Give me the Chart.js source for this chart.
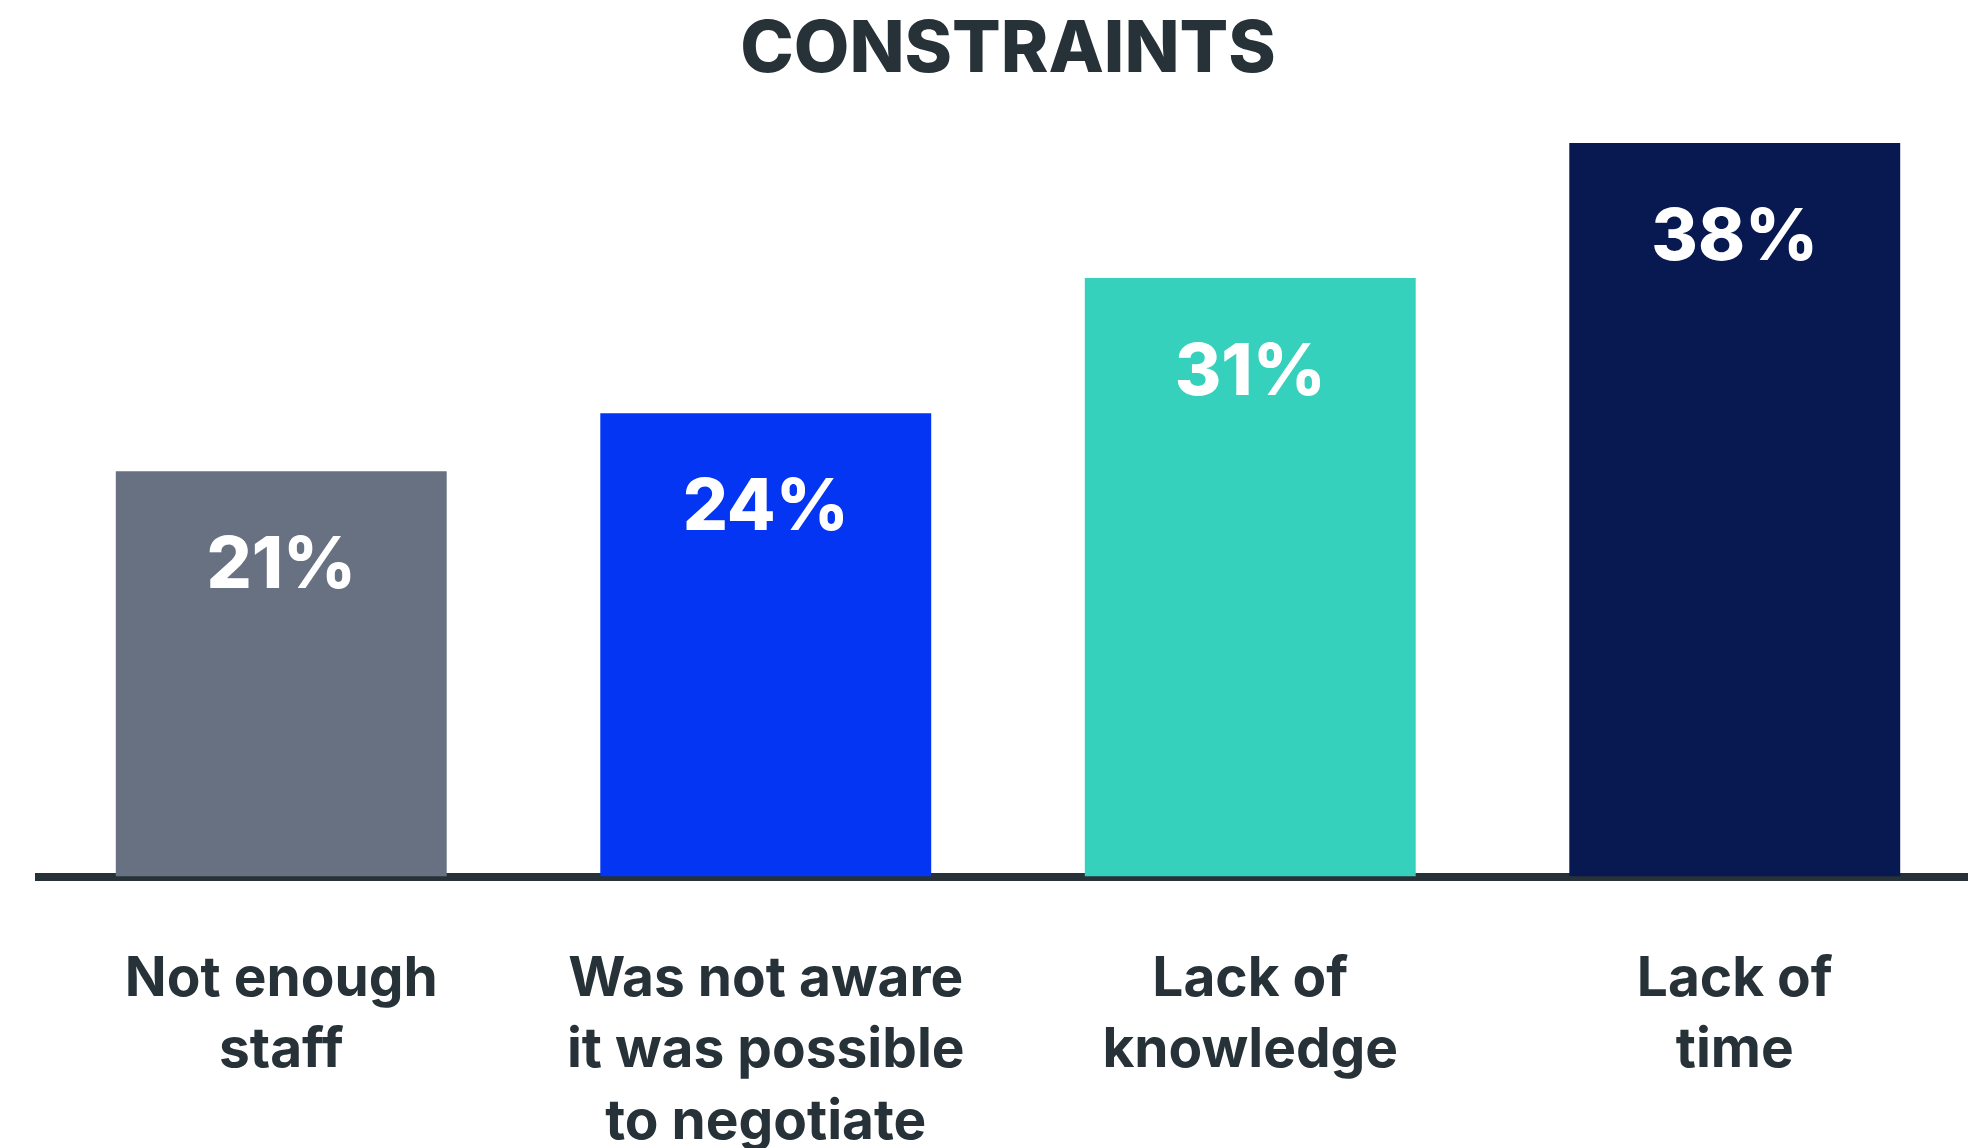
<!DOCTYPE html>
<html>
<head>
<meta charset="utf-8">
<script src="https://cdn.jsdelivr.net/npm/chart.js@4"></script>
<style>
  html, body { margin: 0; padding: 0; background: #ffffff; overflow: hidden; }
  #wrap { position: relative; width: 1990px; height: 1225px; }
</style>
</head>
<body>
<div id="wrap"><canvas id="chart"></canvas></div>
<script>
// Survey answers: what held people back
const categories = [
  ["Not enough", "staff"],
  ["Was not aware", "it was possible", "to negotiate"],
  ["Lack of", "knowledge"],
  ["Lack of", "time"]
];
const values = [21, 24, 31, 38];
const valueLabels = ["21%", "24%", "31%", "38%"];
const barColors = ["#687182", "#0335F2", "#36D1BC", "#081850"];

const INK = "#263238";
const FONT = "Inter";

// White percentage printed inside the top of each bar
const valueLabelPlugin = {
  id: "valueLabels",
  afterDatasetsDraw(chart) {
    const ctx = chart.ctx;
    const meta = chart.getDatasetMeta(0);
    ctx.save();
    ctx.fillStyle = "#ffffff";
    ctx.font = "800 71px " + FONT;
    ctx.textAlign = "center";
    ctx.textBaseline = "alphabetic";
    meta.data.forEach((bar, i) => {
      ctx.fillText(valueLabels[i], bar.x, bar.y + 117);
    });
    ctx.restore();
  }
};

new Chart(document.getElementById("chart"), {
  type: "bar",
  data: {
    labels: categories,
    datasets: [{
      data: values,
      backgroundColor: barColors,
      borderWidth: 0,
      barPercentage: 0.683,
      categoryPercentage: 1.0
    }]
  },
  options: {
    responsive: true,
    maintainAspectRatio: false,
    animation: false,
    layout: { padding: { left: 39, right: 13, top: 0, bottom: 0 } },
    plugins: {
      legend: { display: false },
      tooltip: { enabled: false },
      title: {
        display: true,
        text: "CONSTRAINTS",
        color: INK,
        font: { family: FONT, size: 72, weight: "800", lineHeight: 1.2 },
        padding: { top: 7, bottom: 11 }
      }
    },
    scales: {
      x: {
        z: 1,
        grid: { display: false, drawTicks: false },
        border: { display: true, color: INK, width: 8 },
        ticks: {
          color: INK,
          padding: 67,
          maxRotation: 0,
          autoSkip: false,
          font: { family: FONT, size: 55, weight: "bold", lineHeight: 1.3 }
        }
      },
      y: {
        display: false,
        min: 0,
        max: 40
      }
    }
  },
  plugins: [valueLabelPlugin]
});
</script>
</body>
</html>
